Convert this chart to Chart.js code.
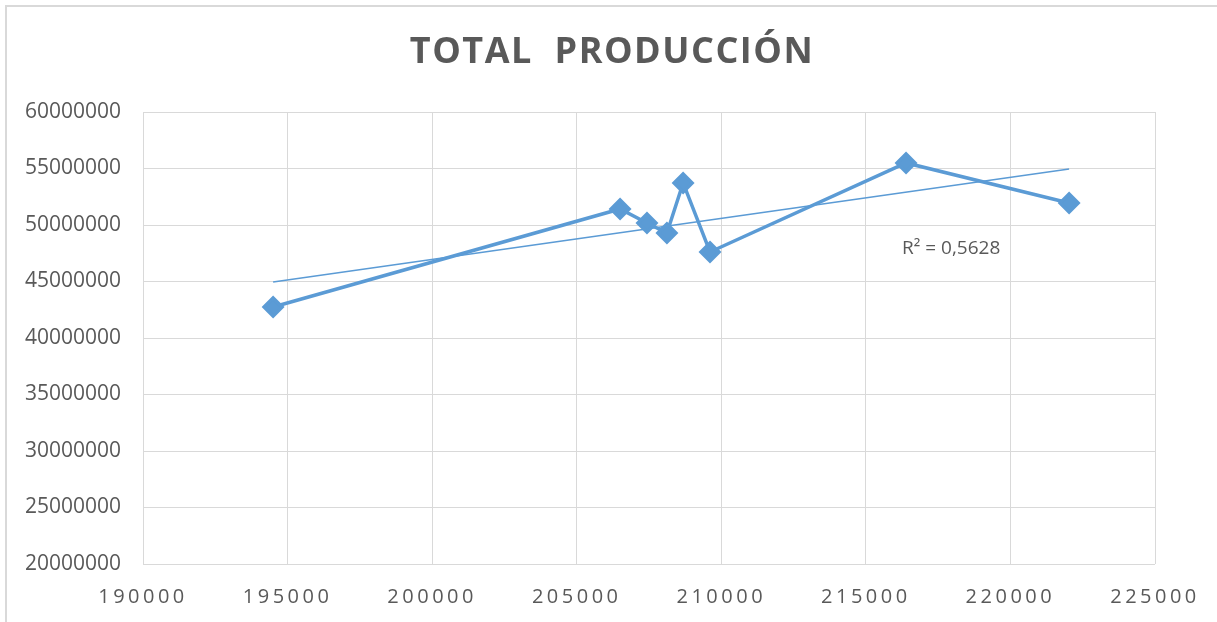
<!DOCTYPE html>
<html>
<head>
<meta charset="utf-8">
<script src="https://cdn.jsdelivr.net/npm/chart.js@4"></script>
<style>
  html, body { margin: 0; padding: 0; background: #fff; }
  #wrap { width: 1217px; height: 622px; position: relative; }
</style>
</head>
<body>
<div id="wrap"><canvas id="chart" width="1217" height="622"></canvas></div>
<script>
// --- Data ---
const produccionX = [194500, 206500, 207430, 208120, 208680, 209610, 216390, 222030];
const produccionY = [42740000, 51420000, 50180000, 49290000, 53720000, 47610000, 55490000, 51950000];
const trendX = [194500, 222030];
const trendY = [44960000, 54960000];
const chartTitle = 'TOTAL  PRODUCCIÓN';
const r2Label = 'R² = 0,5628';

const BLUE = '#5b9bd5';
const GREY_TEXT = '#595959';
const GRID = '#d9d9d9';

const toPoints = (xs, ys) => xs.map((x, i) => ({ x: x, y: ys[i] }));

// frame, title and R² label
const decorPlugin = {
  id: 'decor',
  beforeDraw(chart) {
    const ctx = chart.ctx;
    ctx.save();
    ctx.fillStyle = '#fff';
    ctx.fillRect(0, 0, chart.width, chart.height);
    ctx.strokeStyle = GRID;
    ctx.lineWidth = 2;
    ctx.beginPath();
    ctx.moveTo(6, chart.height);
    ctx.lineTo(6, 6);
    ctx.lineTo(chart.width, 6);
    ctx.stroke();
    ctx.restore();
  },
  afterDraw(chart) {
    const ctx = chart.ctx;
    ctx.save();
    ctx.fillStyle = GREY_TEXT;
    ctx.font = "bold 36px 'Open Sans', sans-serif";
    ctx.letterSpacing = '1.5px';
    ctx.textAlign = 'center';
    ctx.textBaseline = 'middle';
    ctx.fillText(chartTitle, 612, 53);
    ctx.letterSpacing = '0px';
    ctx.font = "19px 'Open Sans', sans-serif";
    ctx.textAlign = 'left';
    ctx.fillText(r2Label, 902, 249);
    ctx.restore();
  },
  afterUpdate(chart) {
    // spaced-out x tick labels
    const xs = chart.scales.x;
    if (xs && !xs._spaced) {
      const orig = xs.drawLabels;
      xs.drawLabels = function (area) {
        this.ctx.save();
        this.ctx.letterSpacing = '3.5px';
        orig.call(this, area);
        this.ctx.restore();
      };
      xs._spaced = true;
    }
  }
};

new Chart(document.getElementById('chart'), {
  type: 'scatter',
  data: {
    datasets: [
      {
        label: 'Total producción',
        data: toPoints(produccionX, produccionY),
        showLine: true,
        borderColor: BLUE,
        backgroundColor: BLUE,
        borderWidth: 3.5,
        pointStyle: 'rectRot',
        pointRadius: 9,
        pointHoverRadius: 9,
        order: 1
      },
      {
        label: 'Tendencia',
        data: toPoints(trendX, trendY),
        showLine: true,
        borderColor: BLUE,
        borderWidth: 1.5,
        pointRadius: 0,
        order: 2
      }
    ]
  },
  options: {
    responsive: false,
    animation: false,
    devicePixelRatio: 1,
    layout: { padding: { top: 112, right: 62, left: 0, bottom: 0 } },
    plugins: {
      legend: { display: false },
      title: { display: false },
      tooltip: { enabled: false }
    },
    scales: {
      x: {
        type: 'linear',
        min: 190000,
        max: 225000,
        ticks: {
          stepSize: 5000,
          color: GREY_TEXT,
          font: { family: "'Open Sans', sans-serif", size: 20 },
          padding: 21,
          maxRotation: 0,
          callback: v => String(v)
        },
        grid: { color: GRID, lineWidth: 1, drawTicks: false },
        border: { display: false },
        afterFit: s => { s.height = 58; }
      },
      y: {
        type: 'linear',
        min: 20000000,
        max: 60000000,
        ticks: {
          stepSize: 5000000,
          color: GREY_TEXT,
          font: { family: "'Open Sans', sans-serif", size: 21 },
          padding: 22,
          callback: v => String(v)
        },
        grid: { color: GRID, lineWidth: 1, drawTicks: false },
        border: { display: false },
        afterFit: s => { s.width = 143; }
      }
    }
  },
  plugins: [decorPlugin]
});
</script>
</body>
</html>
